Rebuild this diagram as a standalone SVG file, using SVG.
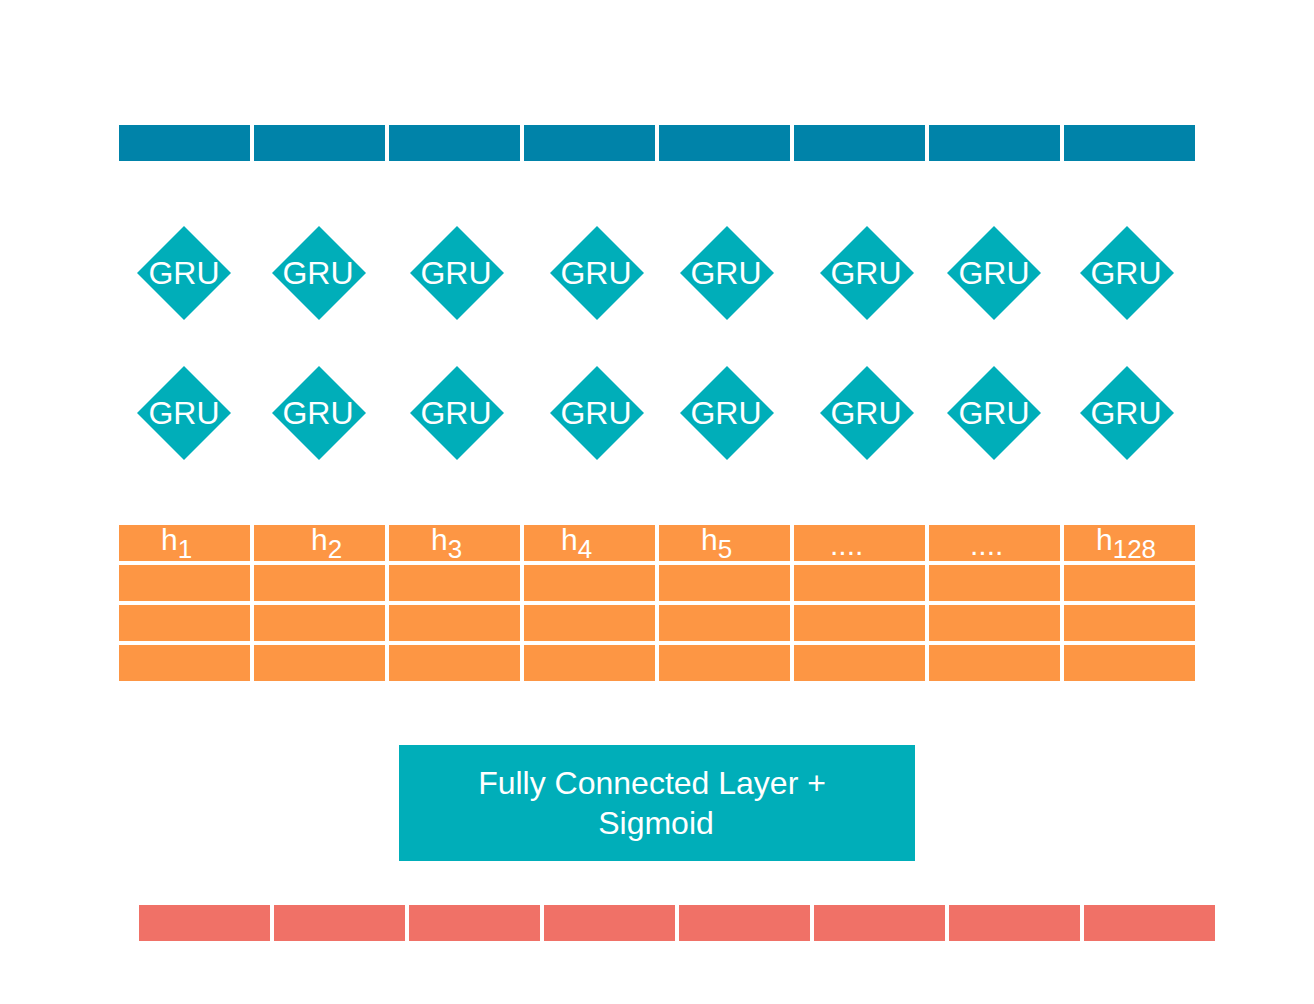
<svg xmlns="http://www.w3.org/2000/svg" width="1314" height="1004" viewBox="0 0 1314 1004">
<style>
.blue{fill:#0083a9}
.org{fill:#fd9644}
.red{fill:#f07167}
.gru{fill:#00aeb9}
.t{font-family:"Liberation Sans",Arial,sans-serif;fill:#ffffff}
.g{font-size:32px;text-anchor:middle}
.h{font-size:30px}
.s{font-size:26px}
</style>
<rect width="1314" height="1004" fill="#ffffff"/>
<g id="input">
<rect class="blue" x="119" y="125" width="131" height="36"/>
<rect class="blue" x="254" y="125" width="131" height="36"/>
<rect class="blue" x="389" y="125" width="131" height="36"/>
<rect class="blue" x="524" y="125" width="131" height="36"/>
<rect class="blue" x="659" y="125" width="131" height="36"/>
<rect class="blue" x="794" y="125" width="131" height="36"/>
<rect class="blue" x="929" y="125" width="131" height="36"/>
<rect class="blue" x="1064" y="125" width="131" height="36"/>
</g>
<defs>
<polygon id="dia" points="0,-47 47,0 0,47 -47,0"/>
</defs>
<g id="gru-top">
<g id="g1"><use href="#dia" class="gru" x="184" y="273"/><text class="t g" x="184" y="284">GRU</text></g>
<g id="g2"><use href="#dia" class="gru" x="319" y="273"/><text class="t g" x="318" y="284">GRU</text></g>
<g id="g3"><use href="#dia" class="gru" x="457" y="273"/><text class="t g" x="456" y="284">GRU</text></g>
<g id="g4"><use href="#dia" class="gru" x="597" y="273"/><text class="t g" x="596" y="284">GRU</text></g>
<g id="g5"><use href="#dia" class="gru" x="727" y="273"/><text class="t g" x="726" y="284">GRU</text></g>
<g id="g6"><use href="#dia" class="gru" x="867" y="273"/><text class="t g" x="866" y="284">GRU</text></g>
<g id="g7"><use href="#dia" class="gru" x="994" y="273"/><text class="t g" x="994" y="284">GRU</text></g>
<g id="g8"><use href="#dia" class="gru" x="1127" y="273"/><text class="t g" x="1126" y="284">GRU</text></g>
</g>
<g id="gru-bottom">
<g id="b1"><use href="#dia" class="gru" x="184" y="413"/><text class="t g" x="184" y="424">GRU</text></g>
<g id="b2"><use href="#dia" class="gru" x="319" y="413"/><text class="t g" x="318" y="424">GRU</text></g>
<g id="b3"><use href="#dia" class="gru" x="457" y="413"/><text class="t g" x="456" y="424">GRU</text></g>
<g id="b4"><use href="#dia" class="gru" x="597" y="413"/><text class="t g" x="596" y="424">GRU</text></g>
<g id="b5"><use href="#dia" class="gru" x="727" y="413"/><text class="t g" x="726" y="424">GRU</text></g>
<g id="b6"><use href="#dia" class="gru" x="867" y="413"/><text class="t g" x="866" y="424">GRU</text></g>
<g id="b7"><use href="#dia" class="gru" x="994" y="413"/><text class="t g" x="994" y="424">GRU</text></g>
<g id="b8"><use href="#dia" class="gru" x="1127" y="413"/><text class="t g" x="1126" y="424">GRU</text></g>
</g>
<g id="hidden">
<rect class="org" x="119" y="525" width="131" height="36"/>
<rect class="org" x="254" y="525" width="131" height="36"/>
<rect class="org" x="389" y="525" width="131" height="36"/>
<rect class="org" x="524" y="525" width="131" height="36"/>
<rect class="org" x="659" y="525" width="131" height="36"/>
<rect class="org" x="794" y="525" width="131" height="36"/>
<rect class="org" x="929" y="525" width="131" height="36"/>
<rect class="org" x="1064" y="525" width="131" height="36"/>
<rect class="org" x="119" y="565" width="131" height="36"/>
<rect class="org" x="254" y="565" width="131" height="36"/>
<rect class="org" x="389" y="565" width="131" height="36"/>
<rect class="org" x="524" y="565" width="131" height="36"/>
<rect class="org" x="659" y="565" width="131" height="36"/>
<rect class="org" x="794" y="565" width="131" height="36"/>
<rect class="org" x="929" y="565" width="131" height="36"/>
<rect class="org" x="1064" y="565" width="131" height="36"/>
<rect class="org" x="119" y="605" width="131" height="36"/>
<rect class="org" x="254" y="605" width="131" height="36"/>
<rect class="org" x="389" y="605" width="131" height="36"/>
<rect class="org" x="524" y="605" width="131" height="36"/>
<rect class="org" x="659" y="605" width="131" height="36"/>
<rect class="org" x="794" y="605" width="131" height="36"/>
<rect class="org" x="929" y="605" width="131" height="36"/>
<rect class="org" x="1064" y="605" width="131" height="36"/>
<rect class="org" x="119" y="645" width="131" height="36"/>
<rect class="org" x="254" y="645" width="131" height="36"/>
<rect class="org" x="389" y="645" width="131" height="36"/>
<rect class="org" x="524" y="645" width="131" height="36"/>
<rect class="org" x="659" y="645" width="131" height="36"/>
<rect class="org" x="794" y="645" width="131" height="36"/>
<rect class="org" x="929" y="645" width="131" height="36"/>
<rect class="org" x="1064" y="645" width="131" height="36"/>
<text class="t h" x="161" y="550">h<tspan class="s" dy="8">1</tspan></text>
<text class="t h" x="311" y="550">h<tspan class="s" dy="8">2</tspan></text>
<text class="t h" x="431" y="550">h<tspan class="s" dy="8">3</tspan></text>
<text class="t h" x="561" y="550">h<tspan class="s" dy="8">4</tspan></text>
<text class="t h" x="701" y="550">h<tspan class="s" dy="8">5</tspan></text>
<text class="t h" x="830" y="555">....</text>
<text class="t h" x="970" y="555">....</text>
<text class="t h" x="1096" y="550">h<tspan class="s" dy="8">128</tspan></text>
</g>
<g id="fc">
<rect class="gru" x="399" y="745" width="516" height="116"/>
<text class="t" font-size="32" text-anchor="middle" x="652" y="794">Fully Connected Layer +</text>
<text class="t" font-size="32" text-anchor="middle" x="656" y="834">Sigmoid</text>
</g>
<g id="output">
<rect class="red" x="139" y="905" width="131" height="36"/>
<rect class="red" x="274" y="905" width="131" height="36"/>
<rect class="red" x="409" y="905" width="131" height="36"/>
<rect class="red" x="544" y="905" width="131" height="36"/>
<rect class="red" x="679" y="905" width="131" height="36"/>
<rect class="red" x="814" y="905" width="131" height="36"/>
<rect class="red" x="949" y="905" width="131" height="36"/>
<rect class="red" x="1084" y="905" width="131" height="36"/>
</g>
<g id="connectors"></g>
</svg>
